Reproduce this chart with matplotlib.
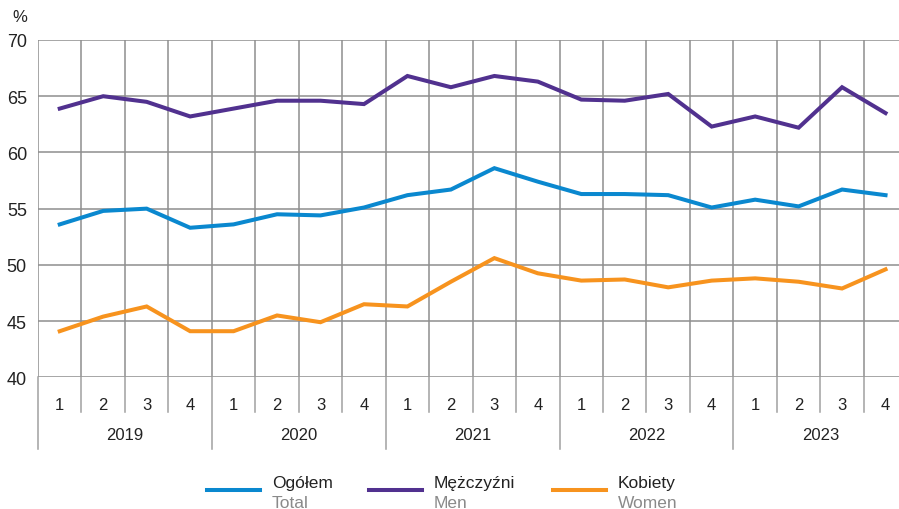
import matplotlib
matplotlib.use("Agg")
import matplotlib.pyplot as plt
from matplotlib.lines import Line2D
import matplotlib.transforms as mtransforms

plt.rcParams['font.family'] = ['Liberation Sans', 'DejaVu Sans']

years = ["2019", "2020", "2021", "2022", "2023"]
quarters = ["1", "2", "3", "4"]
total = [53.6, 54.8, 55.0, 53.3, 53.6, 54.5, 54.4, 55.1, 56.2, 56.7,
         58.6, 57.4, 56.3, 56.3, 56.2, 55.1, 55.8, 55.2, 56.7, 56.2]
men = [63.9, 65.0, 64.5, 63.2, 63.9, 64.6, 64.6, 64.3, 66.8, 65.8,
       66.8, 66.3, 64.7, 64.6, 65.2, 62.3, 63.2, 62.2, 65.8, 63.5]
women = [44.1, 45.4, 46.3, 44.1, 44.1, 45.5, 44.9, 46.5, 46.3, 48.5,
         50.6, 49.25, 48.6, 48.7, 48.0, 48.6, 48.8, 48.5, 47.9, 49.6]
series_pl = ["Ogółem", "Mężczyźni", "Kobiety"]
series_en = ["Total", "Men", "Women"]
colors = ["#0a88cf", "#51318f", "#f7931e"]
yticks = [40, 45, 50, 55, 60, 65, 70]

W, H = 899, 510
fig = plt.figure(figsize=(W / 100, H / 100), dpi=100)
left, right, top, bottom = 38, 899, 41, 378.3
ax = fig.add_axes([left / W, 1 - bottom / H, (right - left) / W, (bottom - top) / H])

n = len(years) * len(quarters)
xs = list(range(n))
grid_c = "#8e8e8e"

ax.set_xlim(-0.5, 19.31)
ax.set_ylim(40, 70)
for s in ax.spines.values():
    s.set_visible(False)
ax.set_yticks(yticks)
ax.set_yticklabels([str(v) for v in yticks], fontsize=13, color="#222222")
ax.tick_params(axis='y', length=0, pad=8)
ax.set_xticks([])
for v in yticks:
    ax.axhline(v, color=grid_c, lw=1.1, zorder=1)
for i in range(n):
    ax.axvline(i - 0.5, color=grid_c, lw=1.1, zorder=1)

for data, c in zip([total, men, women], colors):
    ax.plot(xs, data, color=c, lw=2.9, solid_joinstyle='miter', zorder=3)

trans = mtransforms.blended_transform_factory(ax.transData, ax.transAxes)
def ay(py):
    return -(py - bottom) / (bottom - top)

for i in range(n):
    xb = i - 0.5
    if i % 4 == 0:
        ax.plot([xb, xb], [0, ay(450)], color="#a0a0a0", lw=1.1, transform=trans, clip_on=False)
    else:
        ax.plot([xb, xb], [0, ay(413)], color="#a0a0a0", lw=1.1, transform=trans, clip_on=False)
    ax.text(i, ay(406), quarters[i % 4], transform=trans, ha='center', va='center',
            fontsize=12, color="#222222")
for k, y in enumerate(years):
    ax.text(4 * k + 1.5, ay(436), y, transform=trans, ha='center', va='center',
            fontsize=12, color="#222222")

fig.text(20 / W, 1 - 18 / H, "%", ha='center', va='center', fontsize=12, color="#222222")

# legend
leg_lines = [(207, 260), (369, 422), (553, 606)]
for (x0, x1), c, pl, en in zip(leg_lines, colors, series_pl, series_en):
    fig.add_artist(Line2D([x0 / W, x1 / W], [1 - 491 / H, 1 - 491 / H], color=c, lw=2.9,
                          transform=fig.transFigure))
    fig.text((x1 + 12) / W, 1 - 488 / H, pl, ha='left', va='baseline', fontsize=12.5, color="#222222")
    fig.text((x1 + 12) / W, 1 - 508 / H, en, ha='left', va='baseline', fontsize=12.5, color="#8a8a8a")

fig.savefig("out.png", dpi=100)
